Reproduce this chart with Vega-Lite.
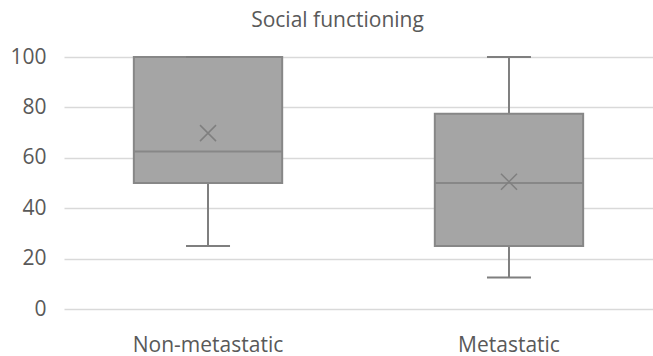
{
  "$schema": "https://vega.github.io/schema/vega-lite/v6.json",
  "autosize": {"type": "none"},
  "padding": {"left": 64, "top": 57, "right": 0, "bottom": 47},
  "width": 589,
  "height": 252,
  "background": "white",
  "title": {
    "text": "Social functioning",
    "font": "Open Sans",
    "fontSize": 21,
    "fontWeight": "normal",
    "color": "#595959",
    "anchor": "middle",
    "offset": 15,
    "dx": -21
  },
  "config": {
    "view": {"stroke": null},
    "axis": {
      "labelFont": "Open Sans",
      "labelFontSize": 21,
      "labelColor": "#595959",
      "ticks": false,
      "domain": false,
      "title": null
    }
  },
  "data": {
    "values": [
      {"group": "Non-metastatic", "min": 25, "q1": 50, "median": 62.5, "q3": 100, "max": 100, "mean": 69.8},
      {"group": "Metastatic", "min": 12.5, "q1": 25, "median": 50, "q3": 77.5, "max": 100, "mean": 50.5}
    ]
  },
  "encoding": {
    "x": {
      "field": "group",
      "type": "nominal",
      "sort": null,
      "scale": {"paddingInner": 0.043, "paddingOuter": 0},
      "axis": {"labelAngle": 0, "labelPadding": 25, "grid": false}
    }
  },
  "layer": [
    {
      "mark": {"type": "rule", "color": "#7f7f7f", "strokeWidth": 2},
      "encoding": {
        "y": {
          "field": "min",
          "type": "quantitative",
          "scale": {"domain": [0, 100], "nice": false},
          "axis": {
            "values": [0, 20, 40, 60, 80, 100],
            "grid": true,
            "gridColor": "#d9d9d9",
            "gridWidth": 1.5,
            "labelPadding": 18
          }
        },
        "y2": {"field": "max"}
      }
    },
    {
      "mark": {"type": "bar", "fill": "#a5a5a5", "stroke": "#878787", "strokeWidth": 2, "width": {"band": 0.515}},
      "encoding": {
        "y": {"field": "q1", "type": "quantitative"},
        "y2": {"field": "q3"}
      }
    },
    {
      "mark": {"type": "tick", "color": "#878787", "size": 148, "thickness": 2, "opacity": 1},
      "encoding": {"y": {"field": "median", "type": "quantitative"}}
    },
    {
      "mark": {"type": "tick", "color": "#7f7f7f", "size": 44, "thickness": 2, "opacity": 1},
      "encoding": {"y": {"field": "min", "type": "quantitative"}}
    },
    {
      "mark": {"type": "tick", "color": "#7f7f7f", "size": 44, "thickness": 2, "opacity": 1},
      "encoding": {"y": {"field": "max", "type": "quantitative"}}
    },
    {
      "mark": {
        "type": "point",
        "shape": "M-1,-1L1,1M-1,1L1,-1",
        "size": 256,
        "filled": false,
        "stroke": "#7f7f7f",
        "strokeWidth": 1.5,
        "opacity": 1
      },
      "encoding": {"y": {"field": "mean", "type": "quantitative"}}
    }
  ]
}
